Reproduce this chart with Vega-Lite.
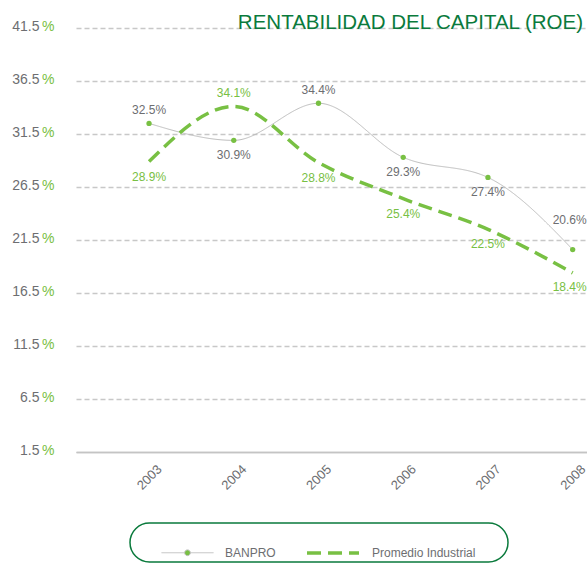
{
  "$schema": "https://vega.github.io/schema/vega-lite/v6.json",
  "width": 511,
  "height": 424,
  "autosize": {"type": "none"},
  "padding": {"left": 76, "top": 28, "right": 0, "bottom": 121},
  "background": "white",
  "title": {
    "text": "RENTABILIDAD DEL CAPITAL (ROE)",
    "anchor": "end",
    "frame": "group",
    "orient": "top",
    "offset": -30,
    "baseline": "alphabetic",
    "font": "Liberation Sans",
    "fontSize": 20.5,
    "fontWeight": "normal",
    "color": "#0a7a3c",
    "dx": -4
  },
  "config": {"view": {"stroke": null}, "font": "Liberation Sans"},
  "data": {
    "values": [
      {"year": 2003, "series": "BANPRO", "value": 32.5},
      {"year": 2004, "series": "BANPRO", "value": 30.9},
      {"year": 2005, "series": "BANPRO", "value": 34.4},
      {"year": 2006, "series": "BANPRO", "value": 29.3},
      {"year": 2007, "series": "BANPRO", "value": 27.4},
      {"year": 2008, "series": "BANPRO", "value": 20.6},
      {"year": 2003, "series": "Promedio Industrial", "value": 28.9},
      {"year": 2004, "series": "Promedio Industrial", "value": 34.1},
      {"year": 2005, "series": "Promedio Industrial", "value": 28.8},
      {"year": 2006, "series": "Promedio Industrial", "value": 25.4},
      {"year": 2007, "series": "Promedio Industrial", "value": 22.5},
      {"year": 2008, "series": "Promedio Industrial", "value": 18.4}
    ]
  },
  "encoding": {
    "x": {
      "field": "year",
      "type": "quantitative",
      "scale": {"domain": [2002.138, 2008.169], "nice": false, "zero": false},
      "axis": {
        "orient": "bottom",
        "values": [2003, 2004, 2005, 2006, 2007, 2008],
        "format": "d",
        "title": null,
        "grid": false,
        "ticks": false,
        "tickSize": 0,
        "domain": true,
        "domainColor": "#c4c4c4",
        "domainWidth": 1.5,
        "labelAngle": -45,
        "labelAlign": "center",
        "labelBaseline": "middle",
        "labelPadding": 25,
        "labelFont": "Liberation Sans",
        "labelFontSize": 13,
        "labelColor": "#6d6e71"
      }
    }
  },
  "layer": [
    {
      "mark": {"type": "line", "interpolate": "monotone"},
      "encoding": {
        "y": {
          "field": "value",
          "type": "quantitative",
          "scale": {"domain": [1.5, 41.5], "nice": false, "zero": false},
          "axis": {
            "orient": "left",
            "values": [6.5, 11.5, 16.5, 21.5, 26.5, 31.5, 36.5, 41.5],
            "labels": false,
            "ticks": false,
            "domain": false,
            "grid": true,
            "gridColor": "#c8c8c8",
            "gridDash": [5, 3],
            "gridWidth": 1.5,
            "title": null
          }
        },
        "color": {
          "field": "series",
          "type": "nominal",
          "scale": {"domain": ["BANPRO", "Promedio Industrial"], "range": ["#bdbdbd", "#78c043"]},
          "legend": {
            "title": ".",
            "titleOrient": "right",
            "titleFontSize": 1,
            "titleColor": "white",
            "titlePadding": 30,
            "orient": "none",
            "legendX": 54,
            "legendY": 495,
            "direction": "horizontal",
            "strokeColor": "#0a7a3c",
            "cornerRadius": 28,
            "padding": 2,
            "symbolSize": 2704,
            "symbolOffset": 29,
            "labelFont": "Liberation Sans",
            "labelFontSize": 12,
            "labelColor": "#6d6e71",
            "labelOffset": 11,
            "columnPadding": -6,
            "encode": {
              "legend": {"update": {"strokeWidth": {"value": 1.5}}},
              "symbols": {
                "update": {
                  "shape": {"signal": "datum.value === 'BANPRO' ? 'M-1,0H-0.12M0.12,0H1M-0.11,0A0.11,0.11,0,1,1,0.11,0A0.11,0.11,0,1,1,-0.11,0Z' : 'M-1,0H1'"},
                  "fill": {"signal": "datum.value === 'BANPRO' ? '#78c043' : 'transparent'"}
                }
              }
            }
          }
        },
        "strokeDash": {
          "field": "series",
          "type": "nominal",
          "scale": {"domain": ["BANPRO", "Promedio Industrial"], "range": [[1, 0], [14, 7]]}
        },
        "strokeWidth": {
          "field": "series",
          "type": "nominal",
          "scale": {"domain": ["BANPRO", "Promedio Industrial"], "range": [1, 3.5]}
        }
      }
    },
    {
      "transform": [{"filter": {"field": "series", "equal": "BANPRO"}}],
      "mark": {"type": "circle", "color": "#78c043", "size": 28, "opacity": 1},
      "encoding": {
        "y": {
          "field": "value",
          "type": "quantitative",
          "axis": {
            "orient": "left",
            "values": [1.5, 6.5, 11.5, 16.5, 21.5, 26.5, 31.5, 36.5, 41.5],
            "format": ".1f",
            "grid": false,
            "ticks": false,
            "tickSize": 0,
            "domain": false,
            "labelPadding": 37,
            "labelFont": "Liberation Sans",
            "labelFontSize": 14,
            "labelColor": "#6d6e71",
            "labelOffset": -2,
            "title": null
          }
        }
      }
    },
    {
      "transform": [{"filter": {"and": [{"field": "series", "equal": "BANPRO"}, {"field": "year", "oneOf": [2003, 2005]}]}}],
      "mark": {"type": "text", "font": "Liberation Sans", "fontSize": 12, "color": "#6d6e71", "dy": -13, "text": {"expr": "format(datum.value, '.1f') + '%'"}},
      "encoding": {
        "y": {
          "field": "value",
          "type": "quantitative",
          "axis": {
            "orient": "left",
            "values": [1.5, 6.5, 11.5, 16.5, 21.5, 26.5, 31.5, 36.5, 41.5],
            "labelExpr": "'%'",
            "grid": false,
            "ticks": false,
            "tickSize": 0,
            "domain": false,
            "labelPadding": 22,
            "labelFont": "Liberation Sans",
            "labelFontSize": 14,
            "labelColor": "#78c043",
            "labelOffset": -2,
            "title": null
          }
        }
      }
    },
    {
      "transform": [{"filter": {"and": [{"field": "series", "equal": "BANPRO"}, {"field": "year", "equal": 2008}]}}],
      "mark": {"type": "text", "font": "Liberation Sans", "fontSize": 12, "color": "#6d6e71", "dy": -30, "dx": -3, "text": {"expr": "format(datum.value, '.1f') + '%'"}},
      "encoding": {
        "y": {
          "field": "value",
          "type": "quantitative",
          "axis": {
            "orient": "left",
            "values": [1.5],
            "labels": false,
            "ticks": false,
            "domain": false,
            "grid": true,
            "gridColor": "#c4c4c4",
            "gridWidth": 1.5,
            "title": null
          }
        }
      }
    },
    {
      "transform": [{"filter": {"and": [{"field": "series", "equal": "BANPRO"}, {"field": "year", "oneOf": [2004, 2006, 2007]}]}}],
      "mark": {"type": "text", "font": "Liberation Sans", "fontSize": 12, "color": "#6d6e71", "dy": 15, "text": {"expr": "format(datum.value, '.1f') + '%'"}},
      "encoding": {"y": {"field": "value", "type": "quantitative", "axis": null}}
    },
    {
      "transform": [{"filter": {"and": [{"field": "series", "equal": "Promedio Industrial"}, {"field": "year", "oneOf": [2003, 2005, 2006, 2007]}]}}],
      "mark": {"type": "text", "font": "Liberation Sans", "fontSize": 12, "color": "#78c043", "dy": 15, "text": {"expr": "format(datum.value, '.1f') + '%'"}},
      "encoding": {"y": {"field": "value", "type": "quantitative", "axis": null}}
    },
    {
      "transform": [{"filter": {"and": [{"field": "series", "equal": "Promedio Industrial"}, {"field": "year", "equal": 2008}]}}],
      "mark": {"type": "text", "font": "Liberation Sans", "fontSize": 12, "color": "#78c043", "dy": 14, "dx": -3, "text": {"expr": "format(datum.value, '.1f') + '%'"}},
      "encoding": {"y": {"field": "value", "type": "quantitative", "axis": null}}
    },
    {
      "transform": [{"filter": {"and": [{"field": "series", "equal": "Promedio Industrial"}, {"field": "year", "equal": 2004}]}}],
      "mark": {"type": "text", "font": "Liberation Sans", "fontSize": 12, "color": "#78c043", "dy": -13, "text": {"expr": "format(datum.value, '.1f') + '%'"}},
      "encoding": {"y": {"field": "value", "type": "quantitative", "axis": null}}
    }
  ],
  "resolve": {"axis": {"x": "shared", "y": "independent"}}
}
